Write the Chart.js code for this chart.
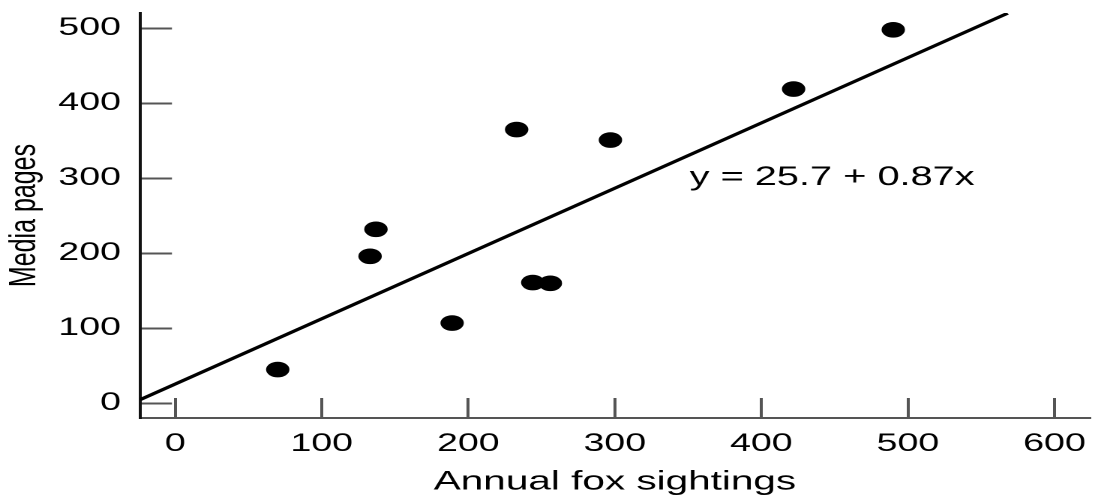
<!DOCTYPE html>
<html lang="en">
<head>
    <meta charset="UTF-8">
    <title>Fox sightings vs media pages</title>
    <script src="https://cdn.jsdelivr.net/npm/chart.js@4.4.1/dist/chart.umd.min.js"></script>
</head>
<style>
    html, body {
        margin: 0;
        padding: 0;
        background: #fff;
        overflow: hidden;
    }
    /* the original figure is stretched sideways, so draw narrow and widen */
    #wrap {
        width: 731.33px;
        height: 502px;
        transform: scaleX(1.5);
        transform-origin: 0 0;
    }
</style>
<body>
    <div id="wrap"><canvas id="plotCanvas"></canvas></div>

    <script>
        // fox sightings (x) and media pages (y)
        const sightings = [70, 133, 137, 189, 233, 244, 256, 297, 422, 490];
        const pages     = [45, 196, 232, 107, 365, 161, 160, 351, 419, 498];

        // fitted line y = 25.7 + 0.87x, end points where it meets the frame
        const fitX = [-24, 568];
        const fitY = [4.8, 520];
        const fitLabel = 'y = 25.7 + 0.87x';

        const xTicks = [0, 100, 200, 300, 400, 500, 600];
        const yTicks = [0, 100, 200, 300, 400, 500];

        Chart.defaults.font.family = '"Liberation Sans", Arial, sans-serif';
        Chart.defaults.color = '#000';

        const equationLabel = {
            id: 'equationLabel',
            afterDatasetsDraw(chart, args, opts) {
                const ctx = chart.ctx;
                const x = chart.scales.x.getPixelForValue(opts.at[0]);
                const y = chart.scales.y.getPixelForValue(opts.at[1]);
                ctx.save();
                ctx.font = '26.5px "Liberation Sans", Arial, sans-serif';
                ctx.fillStyle = '#000';
                ctx.textAlign = 'left';
                ctx.textBaseline = 'alphabetic';
                ctx.fillText(opts.text, x, y);
                ctx.restore();
            }
        };

        const axisGrid = (len) => ({
            drawOnChartArea: false,
            drawTicks: true,
            tickLength: len,
            color: '#555',
            lineWidth: 2
        });

        new Chart(document.getElementById('plotCanvas'), {
            type: 'scatter',
            data: {
                datasets: [{
                    data: sightings.map((v, i) => ({ x: v, y: pages[i] })),
                    backgroundColor: '#000',
                    borderWidth: 0,
                    pointRadius: 7.8,
                    pointHoverRadius: 7.8
                }, {
                    type: 'line',
                    data: fitX.map((v, i) => ({ x: v, y: fitY[i] })),
                    borderColor: '#000',
                    borderWidth: 3,
                    pointRadius: 0,
                    fill: false
                }]
            },
            options: {
                responsive: true,
                maintainAspectRatio: false,
                animation: false,
                devicePixelRatio: 2,
                layout: {
                    autoPadding: false,
                    padding: { top: 13, right: 4.67, left: 0, bottom: 0 }
                },
                plugins: {
                    legend: { display: false },
                    tooltip: { enabled: false },
                    equationLabel: { text: fitLabel, at: [351, 291] }
                },
                scales: {
                    x: {
                        type: 'linear',
                        min: -24,
                        max: 624.2,
                        afterBuildTicks: s => { s.ticks = xTicks.map(v => ({ value: v })); },
                        afterFit: s => {
                            s.height = 84;
                            s.paddingLeft = 0;
                            s.paddingRight = 0;
                        },
                        grid: axisGrid(-20),
                        border: { display: true, color: '#555', width: 2 },
                        ticks: { font: { size: 25 }, padding: 31, maxRotation: 0 },
                        title: {
                            display: true,
                            text: 'Annual fox sightings',
                            font: { size: 27 },
                            padding: { top: 0, bottom: 4 }
                        }
                    },
                    y: {
                        type: 'linear',
                        min: -19.6,
                        max: 520.4,
                        afterBuildTicks: s => { s.ticks = yTicks.map(v => ({ value: v })); },
                        afterFit: s => {
                            s.width = 93.33;
                            s.paddingTop = 0;
                            s.paddingBottom = 0;
                        },
                        grid: axisGrid(-21.3),
                        border: { display: true, color: '#111', width: 2 },
                        ticks: { font: { size: 25 }, padding: 34 },
                        title: {
                            display: true,
                            text: 'Media pages',
                            font: { size: 25 },
                            padding: { top: 1.7, bottom: 0 }
                        }
                    }
                }
            },
            plugins: [equationLabel]
        });
    </script>
</body>
</html>
